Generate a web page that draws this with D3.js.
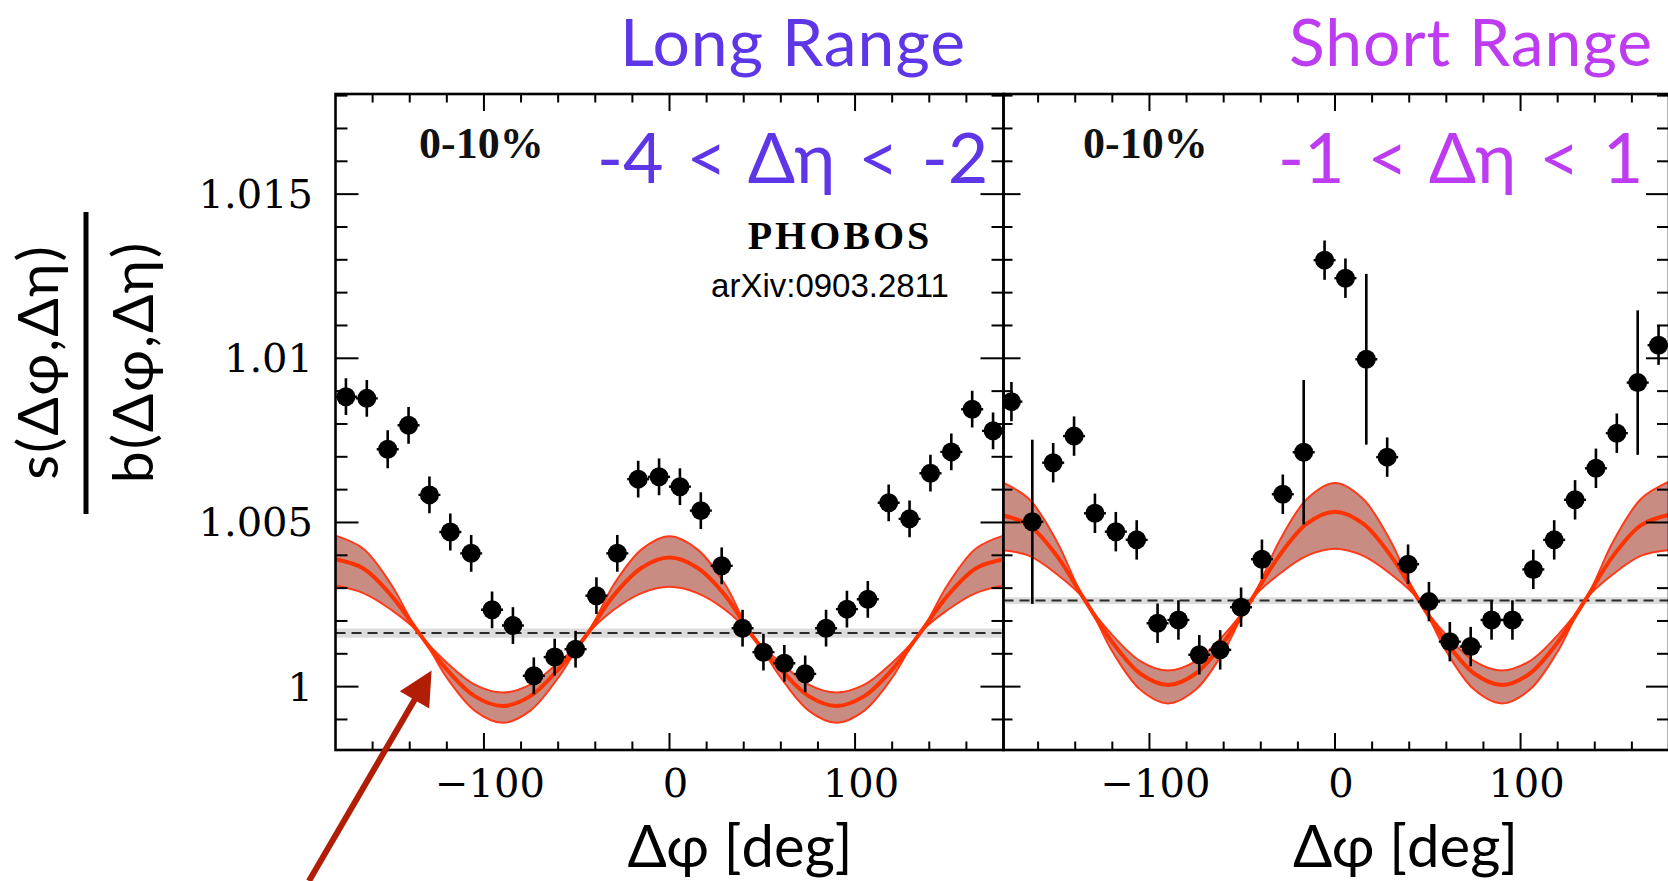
<!DOCTYPE html>
<html><head><meta charset="utf-8">
<script src="https://cdn.jsdelivr.net/npm/d3@7"></script>
<style>body{margin:0;background:#fff;} svg{display:block;}</style>
</head><body><svg id="c" width="1668" height="881"></svg>
<script>
// ---------------- data ----------------
const phiBins = [-174.375, -163.125, -151.875, -140.625, -129.375, -118.125, -106.875, -95.625,
  -84.375, -73.125, -61.875, -50.625, -39.375, -28.125, -16.875, -5.625,
  5.625, 16.875, 28.125, 39.375, 50.625, 61.875, 73.125, 84.375,
  95.625, 106.875, 118.125, 129.375, 140.625, 151.875, 163.125, 174.375];

const longRangeValues = [1.00883, 1.00878, 1.00723, 1.00796, 1.00584, 1.00471, 1.00406, 1.00234,
  1.00186, 1.00033, 1.00090, 1.00114, 1.00277, 1.00406, 1.00632, 1.00639,
  1.00609, 1.00536, 1.00368, 1.00178, 1.00105, 1.00071, 1.00039, 1.00178,
  1.00236, 1.00266, 1.00560, 1.00511, 1.00650, 1.00715, 1.00845, 1.00779];
const longRangeErrors = [0.00056, 0.00056, 0.00058, 0.00056, 0.00056, 0.00056, 0.00056, 0.00056,
  0.00056, 0.00056, 0.00056, 0.00056, 0.00056, 0.00056, 0.00056, 0.00056,
  0.00056, 0.00056, 0.00056, 0.00056, 0.00056, 0.00056, 0.00056, 0.00056,
  0.00056, 0.00056, 0.00056, 0.00056, 0.00056, 0.00056, 0.00056, 0.00056];

const shortRangeValues = [1.00868, 1.00502, 1.00682, 1.00763, 1.00528, 1.00472, 1.00447, 1.00193,
  1.00203, 1.00097, 1.00112, 1.00242, 1.00388, 1.00586, 1.00714, 1.01299,
  1.01244, 1.00997, 1.00699, 1.00373, 1.00259, 1.00137, 1.00122, 1.00203,
  1.00203, 1.00357, 1.00447, 1.00569, 1.00665, 1.00772, 1.00926, 1.01040];
const shortRangeErrors = [0.0006, 0.0025, 0.0006, 0.0006, 0.0006, 0.0006, 0.0006, 0.0006,
  0.0006, 0.0006, 0.0006, 0.0006, 0.0006, 0.0006, 0.0022, 0.0006,
  0.0006, 0.0026, 0.0006, 0.0006, 0.0006, 0.0006, 0.0006, 0.0006,
  0.0006, 0.0006, 0.0006, 0.0006, 0.0006, 0.0006, 0.0022, 0.0006];

const modelPhi = [-180, -165, -150, -135, -120, -105, -90, -75, -60, -45, -30, -15, 0,
  15, 30, 45, 60, 75, 90, 105, 120, 135, 150, 165, 180];
const longModelCenter = [1.00388, 1.00360, 1.00278, 1.00163, 1.00052, 0.99971, 0.99941, 0.99971, 1.00052, 1.00155, 1.00278, 1.00362, 1.00393,
  1.00362, 1.00278, 1.00152, 1.00052, 0.99971, 0.99941, 0.99971, 1.00052, 1.00163, 1.00278, 1.00360, 1.00388];
const longModelUpper = [1.00460, 1.00420, 1.00311, 1.00163, 1.00073, 1.00006, 0.99982, 1.00006, 1.00073, 1.00155, 1.00311, 1.00418, 1.00458,
  1.00418, 1.00311, 1.00152, 1.00073, 1.00006, 0.99982, 1.00006, 1.00073, 1.00163, 1.00311, 1.00420, 1.00460];
const longModelLower = [1.00308, 1.00285, 1.00234, 1.00163, 1.00027, 0.99927, 0.99890, 0.99927, 1.00027, 1.00155, 1.00234, 1.00285, 1.00304,
  1.00285, 1.00234, 1.00152, 1.00027, 0.99927, 0.99890, 0.99927, 1.00027, 1.00163, 1.00234, 1.00285, 1.00308];

const shortModelCenter = [1.00523, 1.00492, 1.00399, 1.00265, 1.00135, 1.00040, 1.00005, 1.00040, 1.00135, 1.00265, 1.00399, 1.00497, 1.00533,
  1.00497, 1.00399, 1.00265, 1.00135, 1.00040, 1.00005, 1.00040, 1.00135, 1.00265, 1.00399, 1.00492, 1.00523];
const shortModelUpper = [1.00624, 1.00572, 1.00443, 1.00265, 1.00157, 1.00078, 1.00049, 1.00078, 1.00157, 1.00265, 1.00443, 1.00572, 1.00620,
  1.00572, 1.00443, 1.00265, 1.00157, 1.00078, 1.00049, 1.00078, 1.00157, 1.00265, 1.00443, 1.00572, 1.00624];
const shortModelLower = [1.00416, 1.00399, 1.00343, 1.00265, 1.00107, 0.99991, 0.99949, 0.99991, 1.00107, 1.00265, 1.00343, 1.00399, 1.00420,
  1.00399, 1.00343, 1.00265, 1.00107, 0.99991, 0.99949, 0.99991, 1.00107, 1.00265, 1.00343, 1.00399, 1.00416];

const baselineValues = [1.00163, 1.00262];
const baselineErrors = [0.00014, 0.00010];

const panelTitles = ["Long Range", "Short Range"];
const etaLabels = ["-4 < Δη < -2", "-1 < Δη < 1"];
const centralityLabel = "0-10%";
const xTickValues = [-100, 0, 100];
const xTickLabels = ["\u2212100", "0", "100"];
const yTickValues = [1, 1.005, 1.01, 1.015];
const yTickLabels = ["1", "1.005", "1.01", "1.015"];
const xTitle = "Δφ [deg]";
const yTitleNum = "s(Δφ,Δη)";
const yTitleDen = "b(Δφ,Δη)";
const arrowTail = [-194.3, 0.99408];
const arrowTip = [-128.2, 1.00049];

// ---------------- layout ----------------
const svg = d3.select("#c");
const yScale = d3.scaleLinear().domain([0.99807, 1.01805]).range([750, 94]);
const titleColors = ["#5d36e8", "#bd3cf2"];

const panels = [
  {x: d3.scaleLinear().domain([-180, 180]).range([335.5, 1003.5]), frame: [335.5, 1003.5],
   vals: longRangeValues, errs: longRangeErrors, mc: longModelCenter, mu: longModelUpper, ml: longModelLower,
   titleX: 793, etaX: 597, centX: 419, leftTicksOut: false},
  {x: d3.scaleLinear().domain([-180, 180]).range([1001, 1669]), frame: [1003.5, 1669],
   vals: shortRangeValues, errs: shortRangeErrors, mc: shortModelCenter, mu: shortModelUpper, ml: shortModelLower,
   titleX: 1471, etaX: 1278, centX: 1083, leftTicksOut: true}
];

const defs = svg.append("defs");
const yTop = yScale.range()[1], yBot = yScale.range()[0];

panels.forEach((p, i) => {
  const x = p.x;
  const clipId = "clip" + i;
  defs.append("clipPath").attr("id", clipId).append("rect")
    .attr("x", p.frame[0]).attr("y", yTop).attr("width", p.frame[1] - p.frame[0]).attr("height", yBot - yTop);
  const g = svg.append("g");
  const pg = g.append("g").attr("clip-path", `url(#${clipId})`);

  // baseline band and dashed line
  pg.append("rect").attr("x", p.frame[0]).attr("width", p.frame[1] - p.frame[0])
    .attr("y", yScale(baselineValues[i] + baselineErrors[i]))
    .attr("height", yScale(baselineValues[i] - baselineErrors[i]) - yScale(baselineValues[i] + baselineErrors[i]))
    .attr("fill", "#dcdcdc");
  pg.append("line").attr("x1", p.frame[0]).attr("x2", p.frame[1])
    .attr("y1", yScale(baselineValues[i])).attr("y2", yScale(baselineValues[i]))
    .attr("stroke", "#2a2a2a").attr("stroke-width", 2).attr("stroke-dasharray", "10,6");

  // model band
  const md = modelPhi.map((f, k) => ({f, c: p.mc[k], u: p.mu[k], l: p.ml[k]}));
  const area = d3.area().x(d => x(d.f)).y0(d => yScale(d.l)).y1(d => yScale(d.u)).curve(d3.curveCatmullRom);
  pg.append("path").datum(md).attr("d", area).attr("fill", "#c98c83");
  const lineU = d3.line().x(d => x(d.f)).y(d => yScale(d.u)).curve(d3.curveCatmullRom);
  const lineL = d3.line().x(d => x(d.f)).y(d => yScale(d.l)).curve(d3.curveCatmullRom);
  const lineC = d3.line().x(d => x(d.f)).y(d => yScale(d.c)).curve(d3.curveCatmullRom);
  pg.append("path").datum(md).attr("d", lineU).attr("fill", "none").attr("stroke", "#ff3a18").attr("stroke-width", 2);
  pg.append("path").datum(md).attr("d", lineL).attr("fill", "none").attr("stroke", "#ff3a18").attr("stroke-width", 2);
  pg.append("path").datum(md).attr("d", lineC).attr("fill", "none").attr("stroke", "#ff3300").attr("stroke-width", 4);

  // data points
  const pts = phiBins.map((f, k) => ({f, v: p.vals[k], e: p.errs[k]}));
  const pgp = pg.append("g");
  pgp.selectAll("line.err").data(pts).join("line").attr("class", "err")
    .attr("x1", d => x(d.f)).attr("x2", d => x(d.f))
    .attr("y1", d => yScale(d.v + d.e)).attr("y2", d => yScale(d.v - d.e))
    .attr("stroke", "#000").attr("stroke-width", 2.6);
  pgp.selectAll("line.nub").data(pts).join("line").attr("class", "nub")
    .attr("x1", d => x(d.f) - 11).attr("x2", d => x(d.f) + 11)
    .attr("y1", d => yScale(d.v)).attr("y2", d => yScale(d.v))
    .attr("stroke", "#000").attr("stroke-width", 2.4);
  pgp.selectAll("circle").data(pts).join("circle")
    .attr("cx", d => x(d.f)).attr("cy", d => yScale(d.v)).attr("r", 9.5).attr("fill", "#000");

  // ticks
  const tk = g.append("g").attr("stroke", "#000").attr("stroke-width", 2);
  d3.range(-160, 161, 20).forEach(t => {
    const major = xTickValues.includes(t);
    const L = major ? 17 : 8.5;
    const xx = x(t);
    if (xx < p.frame[0] + 1 || xx > p.frame[1] - 1) return;
    tk.append("line").attr("x1", xx).attr("x2", xx).attr("y1", yBot).attr("y2", yBot - L);
    tk.append("line").attr("x1", xx).attr("x2", xx).attr("y1", yTop).attr("y2", yTop + L);
  });
  d3.range(-1, 19).forEach(k => {
    const v = 1 + k * 0.001;
    const yy = yScale(v);
    if (yy < yTop + 1 || yy > yBot - 1) return;
    const major = k % 5 === 0;
    const Lin = major ? 23 : 12;
    const Lout = major ? 17 : 9;
    if (!p.leftTicksOut) {
      tk.append("line").attr("x1", p.frame[0]).attr("x2", p.frame[0] + Lin).attr("y1", yy).attr("y2", yy);
    } else {
      tk.append("line").attr("x1", p.frame[0]).attr("x2", p.frame[0] + Lout).attr("y1", yy).attr("y2", yy);
    }
    tk.append("line").attr("x1", p.frame[1]).attr("x2", p.frame[1] - Lin).attr("y1", yy).attr("y2", yy);
  });

  // frame
  g.append("rect").attr("x", p.frame[0]).attr("y", yTop).attr("width", p.frame[1] - p.frame[0]).attr("height", yBot - yTop)
    .attr("fill", "none").attr("stroke", "#000").attr("stroke-width", 2.6);

  // x tick labels
  g.selectAll("text.xtl").data(xTickValues).join("text").attr("class", "xtl")
    .attr("x", (d) => x(d) + 6).attr("y", 797).attr("text-anchor", "middle")
    .attr("font-family", "DejaVu Serif").attr("font-size", 40).attr("fill", "#000")
    .text((d, k) => xTickLabels[k]);

  // x title
  g.append("text").attr("x", x(38)).attr("y", 867).attr("text-anchor", "middle")
    .attr("font-family", "Lato").attr("font-size", 58).attr("fill", "#000").text(xTitle);

  // panel title
  g.append("text").attr("x", p.titleX).attr("y", 66).attr("text-anchor", "middle")
    .attr("font-family", "Lato").attr("font-size", 66).attr("letter-spacing", 1)
    .attr("fill", titleColors[i]).text(panelTitles[i]);
  // eta label
  g.append("text").attr("x", p.etaX).attr("y", 183)
    .attr("font-family", "Lato").attr("font-size", 70).attr("word-spacing", 5)
    .attr("fill", titleColors[i]).text(etaLabels[i]);
  // centrality
  g.append("text").attr("x", p.centX).attr("y", 158)
    .attr("font-family", "Liberation Serif").attr("font-weight", "bold").attr("font-size", 44).attr("fill", "#111")
    .text(centralityLabel);
});

// PHOBOS labels
svg.append("text").attr("x", 840).attr("y", 249).attr("text-anchor", "middle")
  .attr("font-family", "Liberation Serif").attr("font-weight", "bold").attr("font-size", 40)
  .attr("letter-spacing", 3).attr("fill", "#000").text("PHOBOS");
svg.append("text").attr("x", 830).attr("y", 297).attr("text-anchor", "middle")
  .attr("font-family", "Liberation Sans").attr("font-size", 33).attr("fill", "#000").text("arXiv:0903.2811");

// y tick labels
svg.selectAll("text.ytl").data(yTickValues).join("text").attr("class", "ytl")
  .attr("x", 313).attr("y", d => yScale(d) + 14).attr("text-anchor", "end")
  .attr("font-family", "DejaVu Serif").attr("font-size", 40).attr("fill", "#000")
  .text((d, k) => yTickLabels[k]);

// y title (fraction)
const yc = 362;
svg.append("text").attr("transform", `translate(58,${yc}) rotate(-90)`).attr("text-anchor", "middle")
  .attr("font-family", "Lato").attr("font-size", 57).attr("letter-spacing", 2).attr("fill", "#000").text(yTitleNum);
svg.append("text").attr("transform", `translate(153,${yc}) rotate(-90)`).attr("text-anchor", "middle")
  .attr("font-family", "Lato").attr("font-size", 57).attr("letter-spacing", 2).attr("fill", "#000").text(yTitleDen);
svg.append("rect").attr("x", 83.5).attr("y", 212).attr("width", 5).attr("height", 302).attr("fill", "#000");

// arrow annotation
(function () {
  const x = panels[0].x;
  const t0 = [x(arrowTail[0]), yScale(arrowTail[1])];
  const t1 = [x(arrowTip[0]), yScale(arrowTip[1])];
  const dx = t1[0] - t0[0], dy = t1[1] - t0[1];
  const len = Math.hypot(dx, dy);
  const ux = dx / len, uy = dy / len;
  const hl = 34, hw = 17;
  const base = [t1[0] - ux * hl, t1[1] - uy * hl];
  const col = "#b21d05";
  svg.append("line").attr("x1", t0[0]).attr("y1", t0[1]).attr("x2", base[0] + ux * 4).attr("y2", base[1] + uy * 4)
    .attr("stroke", col).attr("stroke-width", 6);
  svg.append("path").attr("d", `M${t1[0]},${t1[1]} L${base[0] - uy * hw},${base[1] + ux * hw} L${base[0] + uy * hw},${base[1] - ux * hw} Z`)
    .attr("fill", col);
})();
</script>
</body></html>
